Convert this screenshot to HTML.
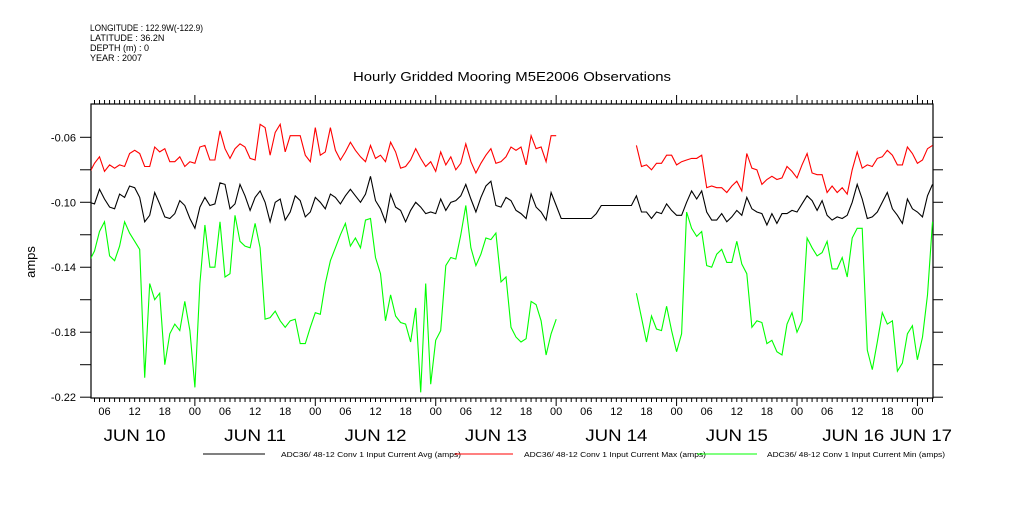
<!DOCTYPE html>
<html><head><meta charset="utf-8"><style>
body{margin:0;background:#fff;width:1009px;height:504px;overflow:hidden}
svg text{font-family:"Liberation Sans",sans-serif;fill:#000}
</style></head><body>
<svg id="chart" width="1009" height="504" viewBox="0 0 1009 504" xmlns="http://www.w3.org/2000/svg">
<g font-size="9">
<text x="90" y="31" textLength="113" lengthAdjust="spacingAndGlyphs">LONGITUDE : 122.9W(-122.9)</text>
<text x="90" y="41">LATITUDE : 36.2N</text>
<text x="90" y="51">DEPTH (m) : 0</text>
<text x="90" y="61">YEAR : 2007</text>
</g>
<text x="353" y="81" font-size="13" textLength="318" lengthAdjust="spacingAndGlyphs">Hourly Gridded Mooring M5E2006 Observations</text>
<text transform="translate(35,262) rotate(-90)" font-size="13" text-anchor="middle">amps</text>
<g id="axes"></g>
<g id="series"></g>
<g font-size="7">
<line x1="203" y1="454" x2="265" y2="454" stroke="#000"/>
<text x="281" y="457" textLength="180" lengthAdjust="spacingAndGlyphs">ADC36/ 48-12 Conv 1 Input Current Avg (amps)</text>
<line x1="455" y1="454" x2="513" y2="454" stroke="#f00"/>
<text x="524" y="457" textLength="182" lengthAdjust="spacingAndGlyphs">ADC36/ 48-12 Conv 1 Input Current Max (amps)</text>
<line x1="697" y1="454" x2="757" y2="454" stroke="#0f0"/>
<text x="767" y="457" textLength="178" lengthAdjust="spacingAndGlyphs">ADC36/ 48-12 Conv 1 Input Current Min (amps)</text>
</g>
</svg>
<script>
const yTicks=[-0.06,-0.10,-0.14,-0.18,-0.22];
const yMinorTicks=[-0.08,-0.12,-0.16,-0.20];
const dayLabels=["JUN 10","JUN 11","JUN 12","JUN 13","JUN 14","JUN 15","JUN 16","JUN 17"];
const hourLabels=["00","06","12","18"];
const startHour=3;
const maxVals1=[-0.082,-0.076,-0.072,-0.081,-0.077,-0.079,-0.077,-0.078,-0.070,-0.068,-0.070,-0.078,-0.078,-0.066,-0.069,-0.067,-0.075,-0.075,-0.072,-0.078,-0.075,-0.076,-0.066,-0.065,-0.074,-0.074,-0.056,-0.067,-0.073,-0.067,-0.064,-0.066,-0.073,-0.074,-0.052,-0.054,-0.071,-0.057,-0.052,-0.069,-0.059,-0.059,-0.059,-0.071,-0.075,-0.054,-0.071,-0.069,-0.054,-0.068,-0.074,-0.069,-0.063,-0.068,-0.072,
-0.075,-0.065,-0.073,-0.071,-0.075,-0.063,-0.069,-0.079,-0.078,-0.074,-0.067,-0.073,-0.078,-0.075,-0.081,-0.069,-0.077,-0.072,-0.080,-0.076,-0.064,-0.075,-0.082,-0.076,-0.071,-0.067,-0.076,-0.075,-0.072,-0.066,-0.068,-0.066,-0.077,-0.059,-0.067,-0.066,-0.075,-0.059,-0.059];
const maxVals2=[-0.065,-0.078,-0.077,-0.080,-0.076,-0.076,-0.071,-0.071,-0.077,-0.075,-0.074,-0.073,-0.073,-0.071,-0.091,-0.090,-0.091,-0.091,-0.094,-0.090,-0.087,-0.093,-0.070,-0.079,-0.080,-0.089,-0.086,-0.084,-0.086,-0.085,-0.078,-0.081,-0.085,-0.077,-0.070,-0.082,-0.083,-0.083,-0.094,-0.090,-0.094,-0.091,-0.095,-0.080,-0.069,-0.079,-0.077,-0.078,-0.073,-0.072,-0.068,-0.071,-0.077,-0.077,-0.066,-0.070,-0.076,-0.074,-0.067,-0.065];
const avgVals=[-0.100,-0.101,-0.092,-0.098,-0.103,-0.104,-0.095,-0.097,-0.090,-0.091,-0.097,-0.112,-0.108,-0.094,-0.101,-0.109,-0.110,-0.107,-0.099,-0.102,-0.110,-0.116,-0.103,-0.097,-0.102,-0.101,-0.088,-0.089,-0.104,-0.101,-0.089,-0.096,-0.105,-0.097,-0.093,-0.100,-0.112,-0.100,-0.098,-0.111,-0.106,-0.096,-0.099,-0.109,-0.106,-0.097,-0.100,-0.104,-0.095,-0.097,-0.101,-0.096,-0.092,-0.096,-0.100,
-0.095,-0.084,-0.099,-0.104,-0.112,-0.095,-0.103,-0.105,-0.112,-0.105,-0.100,-0.103,-0.107,-0.106,-0.107,-0.098,-0.105,-0.100,-0.099,-0.096,-0.089,-0.098,-0.106,-0.097,-0.090,-0.087,-0.102,-0.103,-0.097,-0.099,-0.105,-0.107,-0.110,-0.095,-0.103,-0.106,-0.111,-0.094,-0.102,
-0.110,-0.110,-0.110,-0.110,-0.110,-0.110,-0.110,-0.107,-0.102,-0.102,-0.102,-0.102,-0.102,-0.102,-0.102,
-0.096,-0.106,-0.106,-0.110,-0.106,-0.107,-0.101,-0.105,-0.108,-0.108,-0.100,-0.093,-0.098,-0.093,-0.106,-0.111,-0.111,-0.107,-0.112,-0.109,-0.105,-0.108,-0.097,-0.104,-0.106,-0.107,-0.114,-0.107,-0.113,-0.107,-0.107,-0.105,-0.106,-0.101,-0.096,-0.099,-0.105,-0.099,-0.108,-0.111,-0.109,-0.110,-0.108,-0.100,-0.089,-0.098,-0.110,-0.109,-0.106,-0.100,-0.094,-0.104,-0.108,-0.113,-0.098,-0.104,-0.106,-0.109,-0.096,-0.089];
const minVals1=[-0.136,-0.130,-0.118,-0.112,-0.133,-0.136,-0.127,-0.112,-0.119,-0.124,-0.129,-0.208,-0.150,-0.160,-0.156,-0.200,-0.181,-0.175,-0.179,-0.161,-0.179,-0.214,-0.150,-0.114,-0.140,-0.140,-0.112,-0.146,-0.144,-0.108,-0.124,-0.127,-0.128,-0.113,-0.128,-0.172,-0.171,-0.167,-0.173,-0.177,-0.173,-0.172,-0.187,-0.187,-0.177,-0.168,-0.169,-0.150,-0.136,-0.128,-0.120,-0.113,-0.127,-0.122,-0.128,
-0.111,-0.110,-0.134,-0.144,-0.173,-0.157,-0.170,-0.174,-0.175,-0.186,-0.165,-0.217,-0.150,-0.212,-0.185,-0.179,-0.139,-0.134,-0.135,-0.120,-0.102,-0.128,-0.139,-0.132,-0.122,-0.123,-0.119,-0.149,-0.146,-0.177,-0.183,-0.186,-0.184,-0.161,-0.163,-0.173,-0.194,-0.181,-0.172];
const minVals2=[-0.156,-0.171,-0.186,-0.170,-0.178,-0.179,-0.164,-0.179,-0.192,-0.181,-0.106,-0.116,-0.121,-0.118,-0.139,-0.140,-0.132,-0.129,-0.137,-0.137,-0.124,-0.138,-0.144,-0.177,-0.173,-0.174,-0.187,-0.185,-0.192,-0.194,-0.175,-0.168,-0.180,-0.173,-0.122,-0.128,-0.133,-0.131,-0.124,-0.141,-0.141,-0.134,-0.146,-0.122,-0.116,-0.116,-0.191,-0.203,-0.186,-0.168,-0.175,-0.173,-0.204,-0.199,-0.181,-0.176,-0.197,-0.183,-0.157,-0.112];
const seg2Start=112;

const L=91,R=933,T=104,B=398,H0=3.3,H1=171.1,V0=-0.0395,V1=-0.2205;
function xs(h){return L+(h-H0)/(H1-H0)*(R-L);}
function ys(v){return T+(v-V0)/(V1-V0)*(B-T);}
const NS="http://www.w3.org/2000/svg";
const axes=document.getElementById('axes'),series=document.getElementById('series');
function mk(tag,attrs,parent){const e=document.createElementNS(NS,tag);for(const k in attrs)e.setAttribute(k,attrs[k]);parent.appendChild(e);return e;}
const frame=mk('rect',{x:L,y:T,width:R-L,height:B-T,fill:'none',stroke:'#000','stroke-width':1.2},axes);


yTicks.forEach(v=>{const y=ys(v);
 const t=mk('line',{x1:80,x2:L,y1:y,y2:y,stroke:'#000'},axes);
 
 
 const t2=mk('line',{x1:R,x2:943,y1:y,y2:y,stroke:'#000'},axes);
 
 
 const lb=mk('text',{x:76,y:y+4,'font-size':11,'text-anchor':'end'},axes);lb.textContent=v.toFixed(2);
 
 
});
yMinorTicks.forEach(v=>{const y=ys(v);
 const t=mk('line',{x1:80,x2:L,y1:y,y2:y,stroke:'#000'},axes);
 
 
 const t2=mk('line',{x1:R,x2:943,y1:y,y2:y,stroke:'#000'},axes);
 
 
});
for(let h=4;h<=171;h++){const x=xs(h);const maj=h%24===0;
 const a=mk('line',{x1:x,x2:x,y1:T,y2:T-(maj?9:4),stroke:'#000'},axes);
 
 
 const b=mk('line',{x1:x,x2:x,y1:B,y2:B+(maj?8:4),stroke:'#000'},axes);
 
 
 if(h%6===0){const lb=mk('text',{x:x,y:415,'font-size':11,'text-anchor':'middle'},axes);lb.textContent=hourLabels[(h%24)/6];
  
  }
}
dayLabels.forEach((d,i)=>{let x=xs(i*24+12);if(i===6)x-=4;if(i===7)x=921;
 const lb=mk('text',{x:x-31,y:441,'font-size':17,textLength:62,lengthAdjust:'spacingAndGlyphs'},axes);lb.textContent=d;
 
 });
function line(vals,start,color,name){
 const pts=vals.map((v,i)=>xs(start+i).toFixed(1)+','+ys(v).toFixed(1)).join(' ');
 const p=mk('polyline',{points:pts,fill:'none',stroke:color,'stroke-width':1.1,'clip-path':'url(#clip)'},series);
 
 
}
const defs=mk('defs',{},document.getElementById('chart'));
const cp=mk('clipPath',{id:'clip'},defs);mk('rect',{x:L,y:T,width:R-L,height:B-T},cp);
line(maxVals1,startHour,'#f00','max-series-part1');
line(maxVals2,seg2Start,'#f00','max-series-part2');
line(minVals1,startHour,'#0f0','min-series-part1');
line(minVals2,seg2Start,'#0f0','min-series-part2');
line(avgVals,startHour,'#000','avg-series');
</script>
</body></html>
